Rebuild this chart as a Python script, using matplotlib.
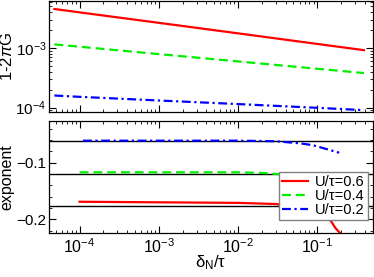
import matplotlib
matplotlib.use("Agg")
import matplotlib.pyplot as plt
from matplotlib.ticker import MultipleLocator, LogLocator, NullFormatter

plt.rcParams['font.family'] = ['Liberation Sans', 'DejaVu Sans']
plt.rcParams['mathtext.fontset'] = 'custom'
plt.rcParams['mathtext.rm'] = 'Liberation Sans'
plt.rcParams['mathtext.it'] = 'Liberation Sans:italic'
plt.rcParams['font.size'] = 10.5

# top panel: 1-2piG vs delta_N/tau
x_top = [4.8e-5, 1e-4, 1e-3, 1e-2, 1e-1, 0.39]
g_06 = [4.5e-3, 3.95e-3, 2.64e-3, 1.76e-3, 1.17e-3, 9.2e-4]
g_04 = [1.15e-3, 1.05e-3, 7.9e-4, 5.96e-4, 4.49e-4, 3.8e-4]
g_02 = [1.6e-4, 1.52e-4, 1.32e-4, 1.15e-4, 9.95e-5, 9.1e-5]

# bottom panel: exponent
x_06 = [1e-4, 1e-3, 1e-2, 3e-2, 5e-2, 0.08, 0.12, 0.15, 0.17, 0.2]
e_06 = [-0.169, -0.170, -0.171, -0.173, -0.176, -0.182, -0.193, -0.2035, -0.2155, -0.226]
x_04 = [1e-4, 1e-3, 1e-2, 2e-2, 4e-2, 0.07, 0.1, 0.2]
e_04 = [-0.117, -0.117, -0.117, -0.118, -0.121, -0.13, -0.142, -0.17]
x_02 = [1.1e-4, 1e-3, 1e-2, 3e-2, 0.061, 0.088, 0.144, 0.19]
e_02 = [-0.061, -0.061, -0.061, -0.062, -0.0657, -0.069, -0.0774, -0.0823]

exact = [-0.0611, -0.1202, -0.1765]
labels = ['U/\u03c4=0.6', 'U/\u03c4=0.4', 'U/\u03c4=0.2']
colors = ['#ff0000', '#00ee00', '#0000ff']

fig = plt.figure(figsize=(3.74, 2.77), dpi=100)
ax1 = fig.add_axes([0.131, 0.596, 0.865, 0.400])
ax2 = fig.add_axes([0.131, 0.159, 0.865, 0.405])

ax1.plot(x_top, g_06, color=colors[0], lw=1.6)
ax1.plot(x_top, g_04, color=colors[1], lw=1.6, dashes=(4, 2.2))
ax1.plot(x_top, g_02, color=colors[2], lw=1.6, dashes=(4, 1.6, 1, 1.6))
ax1.set_xscale('log')
ax1.set_yscale('log')
ax1.set_xlim(4.1e-5, 0.5)
ax1.set_ylim(8.5e-5, 6.1e-3)
ax1.set_ylabel('1-2$\\pi$G', fontsize=12, labelpad=0)
ax1.xaxis.set_major_formatter(NullFormatter())

for y in exact:
    ax2.axhline(y, color='black', lw=1)
ax2.plot(x_06, e_06, color=colors[0], lw=1.6, label=labels[0])
ax2.plot(x_04, e_04, color=colors[1], lw=1.6, dashes=(4, 2.2), label=labels[1])
ax2.plot(x_02, e_02, color=colors[2], lw=1.6, dashes=(4, 1.6, 1, 1.6), label=labels[2])
ax2.set_xscale('log')
ax2.set_xlim(4.1e-5, 0.5)
ax2.set_ylim(-0.2242, -0.0258)
ax2.yaxis.set_major_locator(MultipleLocator(0.1))
ax2.yaxis.set_minor_locator(MultipleLocator(0.02))
ax2.set_ylabel('exponent', fontsize=11.5, labelpad=1)
ax2.set_xlabel('$\\mathrm{\\delta_N/\\tau}$', fontsize=12, labelpad=-2)
leg = ax2.legend(loc='lower right', bbox_to_anchor=(0.985, 0.115), borderaxespad=0,
                 fancybox=False, edgecolor='#808080', framealpha=1,
                 labelspacing=0.0, borderpad=0.2, handlelength=1.8,
                 handletextpad=0.5, fontsize=10.5)
leg.get_frame().set_linewidth(1)

for ax in (ax1, ax2):
    ax.xaxis.set_major_locator(LogLocator(base=10, numticks=10))
    ax.xaxis.set_minor_locator(LogLocator(base=10, subs=range(2, 10), numticks=10))
    ax.tick_params(which='both', direction='in', top=True, right=True)
    ax.tick_params(which='major', length=5, width=0.8)
    ax.tick_params(which='minor', length=2.5, width=0.6)
    ax.tick_params(axis='x', labelsize=11.5, pad=3)
    for s in ax.spines.values():
        s.set_linewidth(0.9)

ax1.tick_params(axis='y', labelsize=11, pad=2)
ax2.tick_params(axis='y', labelsize=11, pad=2)
ax1.yaxis.set_minor_locator(LogLocator(base=10, subs=range(2, 10), numticks=10))
ax1.yaxis.set_minor_formatter(NullFormatter())

fig.savefig('out.png', dpi=100)
